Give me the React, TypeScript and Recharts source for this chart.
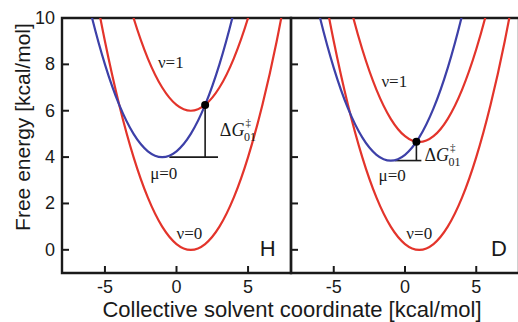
import React from 'react';
import { LineChart, Line, XAxis, YAxis, ReferenceArea, ReferenceLine, ReferenceDot } from 'recharts';

// Collective solvent coordinate samples
const xs = [-8, -7, -6, -5, -4, -3, -2, -1, 0, 1, 2, 3, 4, 5, 6, 7, 8];

// Panel H
const hNu0 = [20.25, 16, 12.25, 9, 6.25, 4, 2.25, 1, 0.25, 0, 0.25, 1, 2.25, 4, 6.25, 9, 12.25];
const hMu0 = [16.25, 13, 10.25, 8, 6.25, 5, 4.25, 4, 4.25, 5, 6.25, 8, 10.25, 13, 16.25, 20, 24.25];
const hNu1 = [26.25, 22, 18.25, 15, 12.25, 10, 8.25, 7, 6.25, 6, 6.25, 7, 8.25, 10, 12.25, 15, 18.25];

// Panel D
const dNu0 = [20.25, 16, 12.25, 9, 6.25, 4, 2.25, 1, 0.25, 0, 0.25, 1, 2.25, 4, 6.25, 9, 12.25];
const dMu0 = [16.1, 12.85, 10.1, 7.85, 6.1, 4.85, 4.1, 3.85, 4.1, 4.85, 6.1, 7.85, 10.1, 12.85, 16.1, 19.85, 24.1];
const dNu1 = [24.9, 20.65, 16.9, 13.65, 10.9, 8.65, 6.9, 5.65, 4.9, 4.65, 4.9, 5.65, 6.9, 8.65, 10.9, 13.65, 16.9];

const xTicks = [-5, 0, 5];
const yTicks = [0, 2, 4, 6, 8, 10];

// Crossing point, barrier base level, base line extent
const hCross = { x: 2, y: 6.25, base: 4, from: -0.5, to: 2.9 };
const dCross = { x: 0.8, y: 4.66, base: 3.85, from: -0.7, to: 1.15 };

const hLabels = { nu1: [-0.4, 8.1], mu0: [-0.89, 3.29], nu0: [0.9, 0.7], dg: [3.03, 5.15], panel: [6.37, 0.04] };
const dLabels = { nu1: [-0.75, 7.24], mu0: [-0.9, 3.2], nu0: [1.0, 0.7], dg: [1.36, 4.07], panel: [6.6, 0.04] };

const RED = '#e3342b';
const BLUE = '#3d40a8';
const INK = '#1a1a1a';
const SANS = '"Liberation Sans", Arial, Helvetica, sans-serif';
const SERIF = '"Liberation Serif", "Times New Roman", serif';

const build = (a: number[], b: number[], c: number[]) =>
  xs.map((x, i) => ({ x, nu0: a[i], mu0: b[i], nu1: c[i] }));

const hData = build(hNu0, hMu0, hNu1);
const dData = build(dNu0, dMu0, dNu1);

const YTick = (showLabel: boolean) => (props: any) => {
  const { x, y, payload } = props;
  return (
    <g>
      <line x1={x} x2={x + 7} y1={y} y2={y} stroke={INK} strokeWidth={2} />
      {showLabel && (
        <text x={x - 7} y={y} textAnchor="end" dominantBaseline="central" fontFamily={SANS} fontSize={18} fill={INK}>
          {payload.value}
        </text>
      )}
    </g>
  );
};

const XTick = (props: any) => {
  const { x, y, payload } = props;
  return (
    <g>
      <line x1={x} x2={x} y1={y} y2={y - 7} stroke={INK} strokeWidth={2} />
      <text x={x} y={y + 14} textAnchor="middle" dominantBaseline="central" fontFamily={SANS} fontSize={18} fill={INK}>
        {payload.value}
      </text>
    </g>
  );
};

const textShape = (content: React.ReactNode, anchor: 'start' | 'middle' = 'middle', family = SERIF, size = 17) => (p: any) => (
  <text x={p.cx} y={p.cy} textAnchor={anchor} dominantBaseline="central" fontFamily={family} fontSize={size} fill={INK}>
    {content}
  </text>
);

const dgShape = (p: any) => (
  <text x={p.cx} y={p.cy} dominantBaseline="central" fontFamily={SERIF} fontSize={18} fill={INK}>
    <tspan>Δ</tspan>
    <tspan fontStyle="italic">G</tspan>
    <tspan dx={1} dy={-8} fontSize={11}>‡</tspan>
    <tspan dx={-7} dy={15} fontSize={12}>01</tspan>
  </text>
);

function Panel({ data, cross, labels, panel, showY, left, width, yAxisWidth }: any) {
  return (
    <div style={{ position: 'absolute', left, top: 0 }}>
      <LineChart width={width} height={322} data={data} margin={{ top: 18, right: 2, bottom: 19, left: 0 }}>
        <XAxis
          dataKey="x"
          type="number"
          domain={[-8, 8]}
          ticks={xTicks}
          axisLine={false}
          tickLine={false}
          tickSize={0}
          tickMargin={0}
          height={30}
          tick={XTick}
          interval={0}
        />
        <YAxis
          type="number"
          domain={[-1, 10]}
          allowDataOverflow
          ticks={yTicks}
          axisLine={false}
          tickLine={false}
          tickSize={0}
          tickMargin={0}
          width={yAxisWidth}
          tick={YTick(showY)}
          interval={0}
        />
        <Line dataKey="nu0" type="natural" stroke={RED} strokeWidth={2.2} dot={false} activeDot={false} isAnimationActive={false} />
        <Line dataKey="nu1" type="natural" stroke={RED} strokeWidth={2.2} dot={false} activeDot={false} isAnimationActive={false} />
        <ReferenceLine segment={[{ x: cross.from, y: cross.base }, { x: cross.to, y: cross.base }]} stroke={INK} strokeWidth={1.6} />
        <ReferenceLine segment={[{ x: cross.x, y: cross.y }, { x: cross.x, y: cross.base }]} stroke={INK} strokeWidth={1.6} />
        <Line dataKey="mu0" type="natural" stroke={BLUE} strokeWidth={2.2} dot={false} activeDot={false} isAnimationActive={false} />
        <ReferenceDot x={cross.x} y={cross.y} r={4} fill="#000" stroke="none" />
        <ReferenceDot x={labels.nu1[0]} y={labels.nu1[1]} r={0} shape={textShape('ν=1')} />
        <ReferenceDot x={labels.mu0[0]} y={labels.mu0[1]} r={0} shape={textShape('μ=0')} />
        <ReferenceDot x={labels.nu0[0]} y={labels.nu0[1]} r={0} shape={textShape('ν=0')} />
        <ReferenceDot x={labels.dg[0]} y={labels.dg[1]} r={0} shape={dgShape} />
        <ReferenceDot x={labels.panel[0]} y={labels.panel[1]} r={0} shape={textShape(panel, 'middle', SANS, 22)} />
        <ReferenceArea x1={-8} x2={8} y1={-1} y2={10} fill="none" stroke={INK} strokeWidth={2.4} />
      </LineChart>
    </div>
  );
}

export default function App() {
  return (
    <div style={{ position: 'absolute', left: 0, top: 0, width: 518, height: 322, overflow: 'hidden', background: '#fff' }}>
      <Panel data={hData} cross={hCross} labels={hLabels} panel="H" showY left={0} width={293} yAxisWidth={62} />
      <Panel data={dData} cross={dCross} labels={dLabels} panel="D" showY={false} left={281} width={240} yAxisWidth={10} />
      <svg width={518} height={322} style={{ position: 'absolute', left: 0, top: 0, pointerEvents: 'none' }}>
        <text transform="translate(22,127) rotate(-90)" textAnchor="middle" dominantBaseline="central" fontFamily={SANS} fontSize={21} fill={INK}>
          Free energy [kcal/mol]
        </text>
        <text x={292} y={309} textAnchor="middle" dominantBaseline="central" fontFamily={SANS} fontSize={22} fill={INK}>
          Collective solvent coordinate [kcal/mol]
        </text>
      </svg>
    </div>
  );
}
